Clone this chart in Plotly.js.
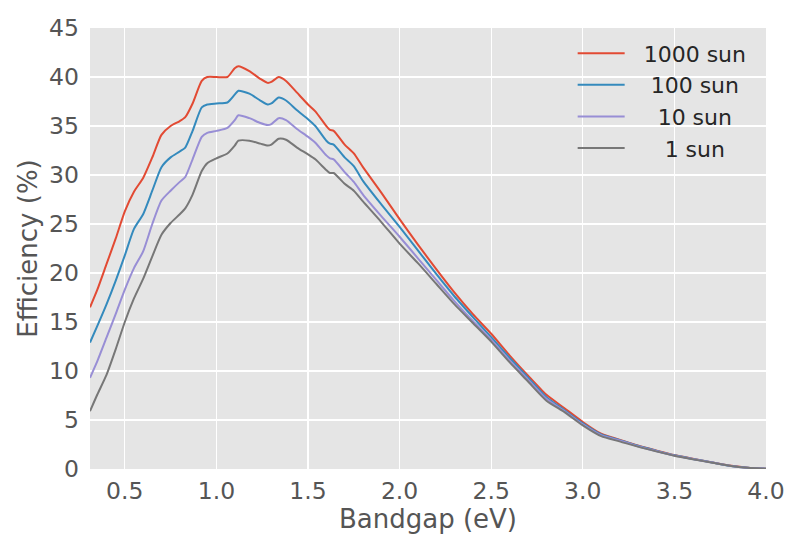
<!DOCTYPE html>
<html>
<head>
<meta charset="utf-8">
<script src="https://cdn.plot.ly/plotly-3.0.1.min.js"></script>
<style>html,body{margin:0;padding:0;background:#fff;}#chart{width:800px;height:550px;}</style>
</head>
<body>
<div id="chart"></div>
<script>
// Bandgap (eV)
const bandgap = [0.31,0.35,0.40,0.45,0.50,0.55,0.60,0.65,0.70,0.75,0.80,0.83,0.87,0.92,0.95,1.00,1.06,1.10,1.12,1.18,1.24,1.28,1.30,1.34,1.38,1.44,1.50,1.54,1.60,1.62,1.64,1.70,1.75,1.80,1.90,2.00,2.10,2.20,2.30,2.40,2.50,2.60,2.70,2.80,2.90,3.00,3.10,3.20,3.30,3.40,3.50,3.60,3.70,3.80,3.90,4.00];

const sun1000 = [16.5,18.3,20.9,23.5,26.3,28.3,29.7,31.8,34.1,35.0,35.5,35.9,37.3,39.6,40.0,40.0,40.0,40.9,41.1,40.6,39.8,39.4,39.5,40.0,39.6,38.4,37.2,36.5,35.0,34.6,34.5,33.1,32.2,30.8,28.2,25.5,22.9,20.4,18.0,15.8,13.8,11.6,9.55,7.6,6.2,4.8,3.6,3.0,2.4,1.9,1.42,1.05,0.7,0.35,0.14,0.03];
const sun100 = [12.9,14.6,16.8,19.2,21.8,24.5,26.0,28.4,30.8,31.8,32.4,32.8,34.5,36.9,37.2,37.3,37.4,38.2,38.6,38.3,37.6,37.2,37.3,37.9,37.6,36.6,35.7,35.0,33.5,33.2,33.1,31.8,30.9,29.4,27.0,24.7,22.3,19.9,17.6,15.5,13.45,11.35,9.35,7.35,6.0,4.65,3.52,2.95,2.37,1.87,1.4,1.03,0.69,0.34,0.14,0.03];
const sun10 = [9.3,11.0,13.4,15.8,18.3,20.5,22.2,25.0,27.4,28.4,29.3,29.8,31.6,33.9,34.3,34.5,34.8,35.6,36.1,35.8,35.3,35.1,35.2,35.8,35.6,34.7,33.9,33.3,32.0,31.7,31.6,30.3,29.3,28.0,25.8,23.7,21.5,19.3,17.1,15.1,13.2,11.1,9.15,7.2,5.9,4.55,3.45,2.9,2.33,1.84,1.38,1.02,0.68,0.34,0.13,0.03];
const sun1 = [5.9,7.6,9.6,12.2,15.0,17.4,19.4,21.7,23.9,25.1,26.0,26.6,28.0,30.4,31.2,31.7,32.2,33.0,33.5,33.5,33.2,33.0,33.1,33.7,33.6,32.8,32.1,31.6,30.5,30.2,30.2,29.1,28.4,27.3,25.2,23.0,21.0,18.9,16.8,14.9,13.0,10.9,8.95,7.0,5.8,4.45,3.35,2.82,2.28,1.8,1.35,1.0,0.66,0.33,0.12,0.02];

const seriesNames = ["\u00a0\u00a01000 sun", "\u00a0\u00a0\u00a0100 sun", "\u00a0\u00a0\u00a0\u00a010 sun", "\u00a0\u00a0\u00a0\u00a0\u00a01 sun"];
const seriesData = [sun1000, sun100, sun10, sun1];
const seriesColors = ["#E24A33", "#348ABD", "#988ED5", "#777777"];

const xTicks = [0.5,1.0,1.5,2.0,2.5,3.0,3.5,4.0];
const yTicks = [0,5,10,15,20,25,30,35,40,45];

const traces = seriesData.map((ys, i) => ({
  x: bandgap, y: ys, type: "scatter", mode: "lines",
  name: seriesNames[i], legendgroup: "g" + i,
  line: {color: seriesColors[i], width: 2, shape: "spline", smoothing: 0.6}
}));

const font = "DejaVu Sans, sans-serif";
const layout = {
  width: 800, height: 550,
  margin: {l: 90, r: 34, t: 28, b: 81},
  paper_bgcolor: "#ffffff", plot_bgcolor: "#E5E5E5",
  font: {family: font, color: "#555555"},
  showlegend: true,
  legend: {x: 0.714, y: 0.99, xanchor: "left", yanchor: "top", bgcolor: "rgba(0,0,0,0)",
           font: {family: font, size: 22, color: "#262626"}, tracegroupgap: 0, itemwidth: 47},
  xaxis: {range: [0.31, 4.0], tickvals: xTicks, ticktext: xTicks.map(v => v.toFixed(1)),
          showgrid: true, gridcolor: "#ffffff", gridwidth: 1.3, zeroline: false, showline: false,
          ticks: "", ticklabelstandoff: 5, tickfont: {family: font, size: 23.5, color: "#555555"},
          title: {text: "Bandgap (eV)", font: {family: font, size: 26, color: "#555555"}, standoff: 6}},
  yaxis: {range: [0, 45], tickvals: yTicks, showgrid: true, gridcolor: "#ffffff", gridwidth: 1.3,
          zeroline: false, showline: false, ticks: "", ticklabelstandoff: 10,
          tickfont: {family: font, size: 23.5, color: "#555555"},
          title: {text: "Efficiency (%)", font: {family: font, size: 26, color: "#555555"}, standoff: 3}}
};

Plotly.newPlot("chart", traces, layout, {displayModeBar: false, staticPlot: true});
</script>
</body>
</html>
